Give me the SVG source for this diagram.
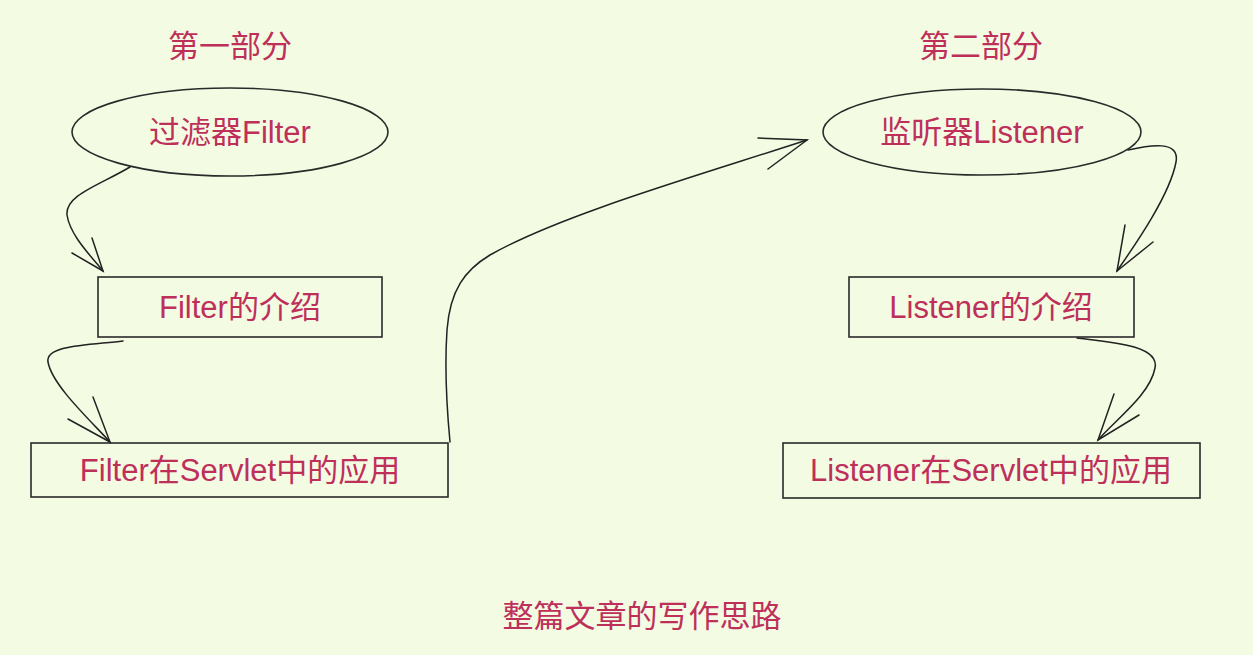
<svg xmlns="http://www.w3.org/2000/svg" width="1253" height="655" viewBox="0 0 1253 655">
<style>
.bg{fill:#F3FBE3}
.shape{fill:none;stroke:#2a2a2a;stroke-width:1.6}
.lbl{font-family:"Liberation Sans","Noto Sans CJK SC",sans-serif;font-size:31px;fill:#BE2F5A;text-anchor:middle}
.conn{fill:none;stroke:#222;stroke-width:1.5;stroke-linecap:round}
</style>
<rect class="bg" x="0" y="0" width="1253" height="655"/>
<text class="lbl" x="230" y="57">第一部分</text>
<text class="lbl" x="981" y="57">第二部分</text>
<text class="lbl" x="642" y="627">整篇文章的写作思路</text>
<g id="n-filter">
<ellipse class="shape" cx="230" cy="132" rx="158" ry="44"/>
<text class="lbl" x="230" y="143">过滤器Filter</text>
</g>
<g id="n-filter-intro">
<rect class="shape" x="98" y="277" width="284" height="60"/>
<text class="lbl" x="240" y="318">Filter的介绍</text>
</g>
<g id="n-filter-app">
<rect class="shape" x="31" y="443" width="417" height="54"/>
<text class="lbl" x="240" y="481">Filter在Servlet中的应用</text>
</g>
<g id="n-listener">
<ellipse class="shape" cx="982" cy="132" rx="159" ry="43"/>
<text class="lbl" x="982" y="143">监听器Listener</text>
</g>
<g id="n-listener-intro">
<rect class="shape" x="849" y="277" width="285" height="60"/>
<text class="lbl" x="991" y="318">Listener的介绍</text>
</g>
<g id="n-listener-app">
<rect class="shape" x="783" y="443" width="417" height="55"/>
<text class="lbl" x="991" y="481">Listener在Servlet中的应用</text>
</g>
<g id="connectors">
<path class="conn" d="M130,167 C100,185 65,195 67,215 C70,235 90,255 103,271"/>
<path class="conn" d="M72,253 L103,271 L92,238"/>
<path class="conn" d="M123,341 C90,345 45,345 48,362 C52,385 90,420 110,442"/>
<path class="conn" d="M68,419 L110,442 L93,397"/>
<path class="conn" d="M450,442 C446,400 445,360 447,330 C450,290 465,270 490,255 C560,215 700,175 807,140"/>
<path class="conn" d="M758,138 L807,140 L768,169"/>
<path class="conn" d="M1128,150 C1150,145 1180,140 1176,162 C1170,195 1135,245 1117,271"/>
<path class="conn" d="M1125,225 L1117,271 L1153,242"/>
<path class="conn" d="M1077,338 C1110,342 1160,345 1155,368 C1150,395 1115,420 1098,440"/>
<path class="conn" d="M1114,394 L1098,440 L1139,415"/>
</g>
</svg>
